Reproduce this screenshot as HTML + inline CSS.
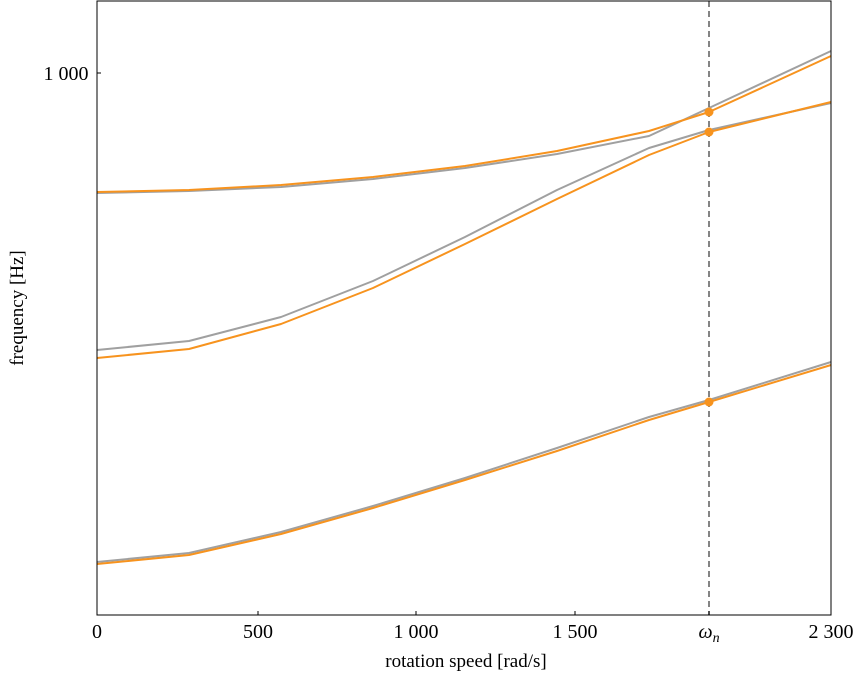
<!DOCTYPE html>
<html><head><meta charset="utf-8"><style>
html,body{margin:0;padding:0;background:#fff;}
svg{display:block;font-family:"Liberation Serif",serif;}
</style></head><body>
<svg width="862" height="679" viewBox="0 0 862 679" xmlns="http://www.w3.org/2000/svg">
<rect x="0" y="0" width="862" height="679" fill="#fff"/>
<g fill="none" stroke-width="2" stroke-linejoin="round">
<polyline stroke="#a0a0a0" points="97,562 189,553 281,532 373,506 465,478 557,448 649,417 709,400 831,362"/>
<polyline stroke="#f7931e" points="97,564 189,555 281,534 373,508 465,480 557,451 649,420 709,402 831,365"/>
<polyline stroke="#a0a0a0" points="97,350 189,341 281,317 373,281 465,237 557,190 649,148 709,130 831,103"/>
<polyline stroke="#a0a0a0" points="97,193 189,191 281,187 373,179 465,168 557,154 649,136 709,108 831,51"/>
<polyline stroke="#f7931e" points="97,358 189,349 281,324 373,288 465,244 557,199 649,155 709,132 831,102"/>
<polyline stroke="#f7931e" points="97,192 189,190 281,185 373,177 465,166 557,151 649,131 709,112 831,56"/>
</g>
<line x1="709" y1="1" x2="709" y2="615" stroke="#666" stroke-width="1.6" stroke-dasharray="6,4"/>
<circle cx="709" cy="112" r="4.5" fill="#f7931e"/>
<circle cx="709" cy="132" r="4.5" fill="#f7931e"/>
<circle cx="709" cy="402" r="4.5" fill="#f7931e"/>
<rect x="97" y="1" width="734" height="614" fill="none" stroke="#000" stroke-width="1"/>
<g stroke="#000" stroke-width="1">
<line x1="97" y1="615" x2="97" y2="611"/><line x1="258" y1="615" x2="258" y2="611"/>
<line x1="416" y1="615" x2="416" y2="611"/><line x1="575" y1="615" x2="575" y2="611"/>
<line x1="709" y1="615" x2="709" y2="611"/><line x1="831" y1="615" x2="831" y2="611"/>
<line x1="97" y1="73" x2="101" y2="73"/>
</g>
<g font-size="20" fill="#000" text-anchor="middle">
<text x="97" y="638">0</text><text x="258" y="638">500</text>
<text x="416" y="638">1 000</text><text x="575" y="638">1 500</text>
<text x="709" y="638" font-style="italic">ω<tspan font-size="14" dy="4">n</tspan></text>
<text x="831" y="638">2 300</text>
<text x="466" y="667" font-size="19">rotation speed [rad/s]</text>
<text x="66" y="80" font-size="20">1 000</text>
<text transform="translate(23,308) rotate(-90)" font-size="19">frequency [Hz]</text>
</g>
</svg>
</body></html>
